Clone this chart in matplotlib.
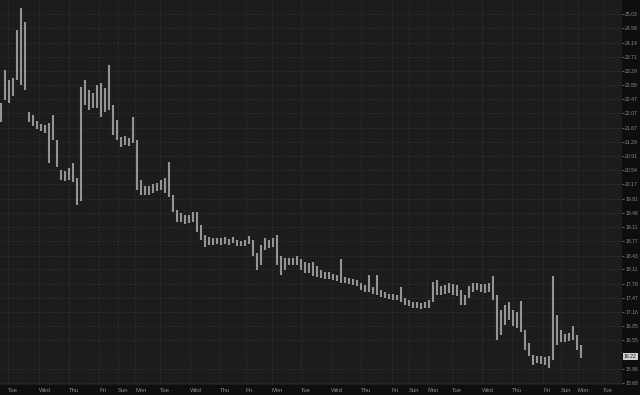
# price chart, dark theme, log price scale on the right
import numpy as np
import matplotlib.pyplot as plt
from matplotlib.ticker import FixedLocator, NullLocator

# bar highs / lows, one bar every ~4 px of the original chart
bar_hi = [22.36, 23.32, 23.03, 23.09, 24.52, 25.22, 24.77, 22.10, 22.02, 21.86,
          21.78, 21.75, 21.80, 22.02, 21.34, 20.54, 20.51, 20.59, 20.73, 20.33,
          22.82, 23.03, 22.73, 22.65, 22.88, 22.94, 22.79, 23.47, 22.30, 21.88,
          21.42, 21.45, 21.40, 21.96, 21.34, 20.28, 20.14, 20.12, 20.17, 20.20,
          20.28, 20.33, 20.75, 19.89, 19.53, 19.44, 19.39, 19.41, 19.48, 19.48,
          19.16, 18.92, 18.87, 18.84, 18.84, 18.84, 18.87, 18.82, 18.87, 18.79,
          18.77, 18.79, 18.89, 18.79, 18.50, 18.67, 18.84, 18.79, 18.84, 18.92,
          18.43, 18.38, 18.38, 18.38, 18.41, 18.36, 18.27, 18.25, 18.27, 18.18,
          18.09, 18.04, 18.04, 18.00, 17.98, 18.36, 17.93, 17.91, 17.89, 17.87,
          17.80, 17.76, 17.98, 17.71, 17.98, 17.65, 17.60, 17.56, 17.56, 17.54,
          17.71, 17.47, 17.43, 17.38, 17.38, 17.36, 17.38, 17.43, 17.82, 17.87,
          17.74, 17.76, 17.80, 17.78, 17.76, 17.65, 17.54, 17.74, 17.80, 17.80,
          17.78, 17.78, 17.80, 17.96, 17.54, 17.20, 17.32, 17.38, 17.20, 17.16,
          17.40, 16.76, 16.49, 16.25, 16.23, 16.23, 16.21, 16.23, 17.96, 17.09,
          16.76, 16.68, 16.70, 16.85, 16.66, 16.45]
bar_lo = [21.83, 22.44, 22.36, 22.56, 23.03, 22.88, 22.73, 21.83, 21.72, 21.64,
          21.59, 21.53, 20.73, 21.34, 20.62, 20.28, 20.25, 20.28, 20.22, 19.65,
          19.76, 22.30, 22.16, 22.21, 22.21, 21.96, 22.10, 22.16, 21.48, 21.34,
          21.15, 21.21, 21.18, 21.26, 20.02, 19.89, 19.89, 19.91, 19.96, 19.99,
          20.02, 19.96, 19.84, 19.48, 19.24, 19.24, 19.19, 19.21, 19.24, 18.99,
          18.79, 18.62, 18.67, 18.67, 18.70, 18.67, 18.70, 18.67, 18.72, 18.65,
          18.65, 18.65, 18.70, 18.43, 18.09, 18.20, 18.55, 18.60, 18.62, 18.20,
          17.98, 18.09, 18.22, 18.22, 18.20, 18.09, 18.02, 18.02, 17.96, 17.93,
          17.91, 17.89, 17.89, 17.87, 17.85, 17.80, 17.80, 17.78, 17.76, 17.74,
          17.65, 17.60, 17.60, 17.56, 17.54, 17.49, 17.47, 17.45, 17.43, 17.43,
          17.38, 17.32, 17.29, 17.25, 17.25, 17.23, 17.25, 17.25, 17.38, 17.54,
          17.54, 17.56, 17.58, 17.54, 17.51, 17.32, 17.32, 17.47, 17.60, 17.65,
          17.60, 17.58, 17.60, 17.43, 16.55, 16.66, 16.87, 16.98, 16.85, 16.81,
          16.72, 16.35, 16.23, 16.04, 16.08, 16.06, 16.04, 15.98, 16.15, 16.45,
          16.51, 16.51, 16.53, 16.55, 16.35, 16.19]

# day separators (in bar units) and their labels
day_pos = [1.75, 9.5, 17, 24.5, 29.25, 33.5, 39.75, 47.25, 54.75, 61.25, 67.75, 75,
           82.5, 90, 97.75, 102, 106.5, 112.75, 120.25, 127.75, 135.5, 140, 144.25, 150.5]
day_lbl = ["Tue", "Wed", "Thu", "Fri", "Sun", "Mon", "Tue", "Wed", "Thu", "Fri", "Mon", "Tue",
           "Wed", "Thu", "Fri", "Sun", "Mon", "Tue", "Wed", "Thu", "Fri", "Sun", "Mon", "Tue"]

price_ticks = [25.03, 24.58, 24.14, 23.71, 23.29, 22.88, 22.47, 22.07, 21.67, 21.29,
               20.91, 20.54, 20.17, 19.81, 19.46, 19.11, 18.77, 18.43, 18.11, 17.78,
               17.47, 17.16, 16.85, 16.55, 15.96, 15.68]
last_price = 16.22

plt.rcParams['font.family'] = ['Liberation Sans', 'DejaVu Sans']

fig = plt.figure(figsize=(6.4, 3.95), dpi=100, facecolor="#0e0e0e")
ax = fig.add_axes([0, 10 / 395, 622 / 640, 385 / 395], facecolor="#1c1c1c")

t = np.arange(len(bar_hi))
ax.vlines(t, bar_lo, bar_hi, color="#949494", lw=1.5)

ax.set_yscale("log")
ax.set_ylim(15.64, 25.48)
ax.set_xlim(-0.25, 155.25)

ax.yaxis.set_major_locator(FixedLocator(price_ticks))
ax.yaxis.set_minor_locator(NullLocator())
ax.set_yticklabels([f"{v:.2f}" for v in price_ticks])
ax.yaxis.tick_right()
ax.tick_params(axis="y", colors="#8a8a8a", labelsize=3.7, length=1.5, width=0.5, pad=0.8)

ax.set_xticks(day_pos)
ax.set_xticklabels(day_lbl, ha="left")
ax.tick_params(axis="x", colors="#8a8a8a", labelsize=4.2, length=0, pad=1.8)

ax.grid(True, color="#3a3a3a", ls=(0, (1, 2)), lw=0.6)
for s in ax.spines.values():
    s.set_visible(False)

# last price marker
ax.annotate(f"{last_price:.2f}", xy=(1, last_price), xycoords=("axes fraction", "data"),
            xytext=(1.5, 0), textcoords="offset points", va="center", ha="left",
            fontsize=3.7, color="#1a1a1a",
            bbox=dict(boxstyle="square,pad=0.15", fc="#cfcfcf", ec="none"),
            annotation_clip=False)

fig.savefig("out.png", dpi=100, facecolor=fig.get_facecolor())
